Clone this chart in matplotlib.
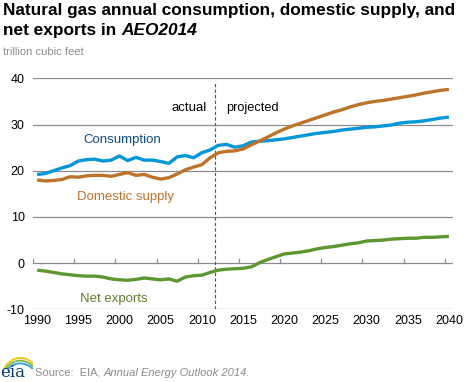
import matplotlib
matplotlib.use("Agg")
import matplotlib.pyplot as plt
from matplotlib.patches import Arc

plt.rcParams["font.family"] = ["Liberation Sans", "DejaVu Sans"]

# Data (trillion cubic feet)
years = list(range(1990, 2041))
consumption = [19.2, 19.4, 20.0, 20.6, 21.1, 22.1, 22.4, 22.5, 22.1, 22.3,
               23.2, 22.2, 22.9, 22.3, 22.3, 22.0, 21.6, 23.0, 23.3, 22.8,
               23.9, 24.5, 25.5, 25.7, 25.1, 25.4, 26.2, 26.4, 26.5, 26.7,
               26.9, 27.2, 27.5, 27.8, 28.1, 28.3, 28.5, 28.8, 29.0, 29.2,
               29.4, 29.5, 29.7, 29.9, 30.3, 30.5, 30.6, 30.8, 31.1, 31.4,
               31.6]
domestic_supply = [18.0, 17.8, 17.9, 18.1, 18.7, 18.6, 18.9, 19.0, 19.0, 18.8,
                   19.2, 19.6, 19.0, 19.2, 18.6, 18.2, 18.5, 19.3, 20.2, 20.8,
                   21.3, 22.8, 23.9, 24.2, 24.3, 24.7, 25.6, 26.4, 27.3, 28.2,
                   29.0, 29.7, 30.3, 30.9, 31.5, 32.1, 32.7, 33.2, 33.8, 34.3,
                   34.7, 35.0, 35.2, 35.5, 35.8, 36.1, 36.4, 36.8, 37.1, 37.4,
                   37.6]
net_exports = [-1.5, -1.7, -2.0, -2.3, -2.5, -2.7, -2.8, -2.8, -3.0, -3.4,
               -3.6, -3.7, -3.5, -3.2, -3.4, -3.6, -3.4, -3.9, -3.0, -2.7,
               -2.6, -2.0, -1.5, -1.3, -1.2, -1.1, -0.8, 0.1, 0.8, 1.4,
               2.0, 2.2, 2.4, 2.7, 3.1, 3.4, 3.6, 3.9, 4.2, 4.4,
               4.8, 4.9, 5.0, 5.2, 5.3, 5.4, 5.4, 5.6, 5.6, 5.7,
               5.8]
y_ticks = [-10, 0, 10, 20, 30, 40]
x_labels = list(range(1990, 2041, 5))
history_end = 2011.6

BLUE = "#0096d7"
BROWN = "#bd732a"
GREEN = "#5d9732"

fig = plt.figure(figsize=(4.68, 3.82), dpi=100)
ax = fig.add_axes([0.0705, 0.190, 0.8975, 0.605])

for y in y_ticks:
    ax.axhline(y, color="#8c8c8c", lw=0.9, zorder=1)

ax.plot(years, consumption, color=BLUE, lw=2.4, zorder=3, solid_capstyle="butt")
ax.plot(years, domestic_supply, color=BROWN, lw=2.4, zorder=3, solid_capstyle="butt")
ax.plot(years, net_exports, color=GREEN, lw=2.4, zorder=3, solid_capstyle="butt")

ax.plot([history_end, history_end], [-10, 39.5], color="#555555", lw=0.8,
        ls=(0, (3, 2)), zorder=2)

ax.set_xlim(1989.5, 2040.5)
ax.set_ylim(-10, 40)
for s in ax.spines.values():
    s.set_visible(False)
ax.set_yticks(y_ticks)
ax.set_yticklabels([str(v) for v in y_ticks], fontsize=9)
ax.tick_params(axis="y", length=0, pad=6)
ax.set_xticks(x_labels)
ax.set_xticklabels([str(v) for v in x_labels], fontsize=9)
ax.tick_params(axis="x", length=0, pad=4)

# small category tick marks on the zero line
for x in range(1990, 2041, 5):
    ax.plot([x - 0.5, x - 0.5], [0, 0.9], color="#8c8c8c", lw=0.9, zorder=1)
ax.plot([2040.5, 2040.5], [0, 0.9], color="#8c8c8c", lw=0.9, zorder=1)

ax.text(history_end - 1.0, 33.5, "actual", fontsize=9.5, ha="right", va="center")
ax.text(history_end + 1.3, 33.5, "projected", fontsize=9.2, ha="left", va="center")
ax.text(1995.6, 26.6, "Consumption", fontsize=9.5, color="#0f4c81", ha="left", va="center")
ax.text(1994.8, 14.3, "Domestic supply", fontsize=9.5, color=BROWN, ha="left", va="center")
ax.text(1995.2, -7.8, "Net exports", fontsize=9.5, color="#5e7d2e", ha="left", va="center")

# title
fig.text(0.007, 0.972, "Natural gas annual consumption, domestic supply, and",
         fontsize=12.4, fontweight="bold", ha="left", va="center")
t2 = fig.text(0.007, 0.921, "net exports in ", fontsize=12.4, fontweight="bold",
              ha="left", va="center")
fig.canvas.draw()
r = fig.canvas.get_renderer()
bb = t2.get_window_extent(renderer=r)
fig.text(bb.x1 / fig.bbox.width, 0.921, "AEO2014", fontsize=12.4, fontweight="bold",
         style="italic", ha="left", va="center")
fig.text(0.007, 0.863, "trillion cubic feet", fontsize=8, color="#8c8c8c",
         ha="left", va="center")

# source line
s1 = fig.text(0.075, 0.024, "Source:  EIA, ", fontsize=8, color="#8c8c8c",
              ha="left", va="center")
bb = s1.get_window_extent(renderer=r)
fig.text(bb.x1 / fig.bbox.width, 0.024, "Annual Energy Outlook 2014.", fontsize=8,
         color="#8c8c8c", style="italic", ha="left", va="center")

# eia logo
fig.text(0.0, 0.024, "eia", fontsize=12, color="#0b3c6e", family="DejaVu Serif",
         ha="left", va="center")
lax = fig.add_axes([0.0, 0.035, 0.07, 0.04])
lax.set_xlim(0, 1)
lax.set_ylim(0, 1)
lax.axis("off")
for i, c in enumerate(["#f2c40f", "#7ab648", "#2a9fd6"]):
    lax.add_patch(Arc((0.62, -0.6 - 0.18 * i), 1.1, 2.6, theta1=50, theta2=150,
                      color=c, lw=1.3))

fig.savefig("out.png", dpi=100)
